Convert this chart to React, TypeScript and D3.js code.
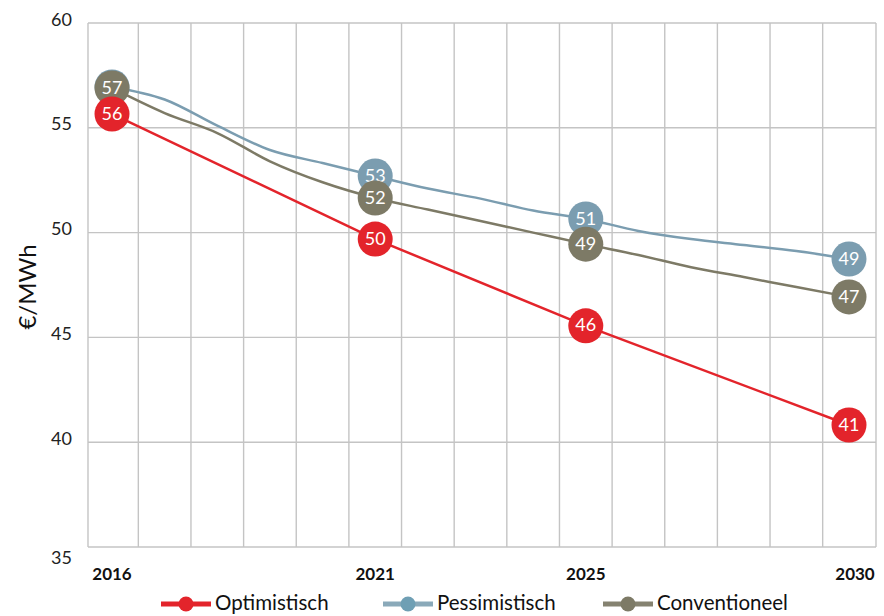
import React from "react";
import * as d3 from "d3";

const years = [2016, 2017, 2018, 2019, 2020, 2021, 2022, 2023, 2024, 2025, 2026, 2027, 2028, 2029, 2030];
const labelYears = [2016, 2021, 2025, 2030];
const yTicks = [35, 40, 45, 50, 55, 60];

const optimistisch: (number | null)[] = [55.66, null, null, null, null, 49.69, null, null, null, 45.55, null, null, null, null, 40.82];
const pessimistisch: number[] = [56.95, 56.35, 55.1, 53.94, 53.32, 52.7, 52.1, 51.62, 51.05, 50.65, 50.08, 49.69, 49.41, 49.12, 48.74];
const conventioneel: number[] = [56.9, 55.7, 54.75, 53.4, 52.4, 51.65, 51.1, 50.55, 50.0, 49.45, 48.93, 48.35, 47.88, 47.4, 46.93];

const seriesNames = ["Pessimistisch", "Conventioneel", "Optimistisch"];
const legendOrder = ["Optimistisch", "Pessimistisch", "Conventioneel"];

const W = 884, H = 616;
const PLOT = { left: 88, right: 876, top: 23, bottom: 547 };
const FONT = "Lato, 'Open Sans', sans-serif";

const colors: Record<string, string> = {
  Optimistisch: "#e3242b",
  Pessimistisch: "#7b9db0",
  Conventioneel: "#7d7a66",
};
const legendLine: Record<string, string> = {
  Optimistisch: "#e3242b",
  Pessimistisch: "#8aa9b9",
  Conventioneel: "#858270",
};
const legendDot: Record<string, string> = {
  Optimistisch: "#e3242b",
  Pessimistisch: "#6f9fb4",
  Conventioneel: "#7d7a66",
};
const legendX: Record<string, number> = {
  Optimistisch: 161,
  Pessimistisch: 383,
  Conventioneel: 603,
};

const dataFor: Record<string, (number | null)[]> = {
  Optimistisch: optimistisch,
  Pessimistisch: pessimistisch,
  Conventioneel: conventioneel,
};

export default function App() {
  const x = d3.scalePoint<number>().domain(years).range([112, 849]);
  const step = x.step();
  const y = d3.scaleLinear().domain([35, 60]).range([PLOT.bottom, PLOT.top]);
  const cx = (yr: number) => x(yr) as number;

  const gridX = [PLOT.left]
    .concat(years.slice(1).map((yr) => cx(yr) - step / 2))
    .concat([PLOT.right]);

  const lineFor = (name: string) => {
    const pts = years
      .map((yr, i) => ({ yr, v: dataFor[name][i] }))
      .filter((d) => d.v != null) as { yr: number; v: number }[];
    const gen = d3
      .line<{ yr: number; v: number }>()
      .x((d) => cx(d.yr))
      .y((d) => y(d.v))
      .curve(name === "Optimistisch" ? d3.curveLinear : d3.curveMonotoneX);
    return gen(pts) || "";
  };

  return (
    <svg
      width={W}
      height={H}
      style={{ position: "absolute", left: 0, top: 0, display: "block", background: "#fff" }}
      fontFamily={FONT}
    >
      {/* grid */}
      <g stroke="#c4c4c4" strokeWidth={1.4}>
        {yTicks.map((t) => (
          <line key={"h" + t} x1={PLOT.left} x2={PLOT.right} y1={y(t)} y2={y(t)} />
        ))}
        {gridX.map((gx, i) => (
          <line key={"v" + i} x1={gx} x2={gx} y1={PLOT.top} y2={PLOT.bottom} />
        ))}
      </g>

      {/* y tick labels */}
      <g fontSize={18} fill="#222" textAnchor="end">
        {yTicks.map((t, i) => (
          <text key={t} x={72} y={y(t) + (i === 0 ? 12 : -2)} dominantBaseline="middle">
            {t}
          </text>
        ))}
      </g>
      <text
        transform={`translate(30,287) rotate(-90)`}
        textAnchor="middle"
        dominantBaseline="middle"
        fontSize={24}
        fill="#111"
      >
        €/MWh
      </text>

      {/* x tick labels */}
      <g fontSize={17} fontWeight="bold" fill="#111" textAnchor="middle">
        {labelYears.map((yr, i) => (
          <text key={yr} x={cx(yr) + (i === labelYears.length - 1 ? 6 : 0)} y={580}>
            {yr}
          </text>
        ))}
      </g>

      {/* lines */}
      {seriesNames.map((name) => (
        <path key={name} d={lineFor(name)} fill="none" stroke={colors[name]} strokeWidth={2.5} />
      ))}

      {/* markers + labels */}
      {seriesNames.map((name) => (
        <g key={"m" + name}>
          {labelYears.map((yr) => {
            const v = dataFor[name][years.indexOf(yr)] as number;
            return (
              <g key={yr}>
                <circle cx={cx(yr)} cy={y(v)} r={17.5} fill={colors[name]} />
                <text
                  x={cx(yr)}
                  y={y(v) + 1}
                  textAnchor="middle"
                  dominantBaseline="middle"
                  fill="#fff"
                  fontSize={18}
                >
                  {Math.round(v)}
                </text>
              </g>
            );
          })}
        </g>
      ))}

      {/* legend */}
      <g>
        {legendOrder.map((name) => {
          const lx = legendX[name];
          return (
            <g key={"l" + name}>
              <line x1={lx} x2={lx + 50} y1={604} y2={604} stroke={legendLine[name]} strokeWidth={5} />
              <circle cx={lx + 25} cy={604} r={7.5} fill={legendDot[name]} />
              <text x={lx + 54} y={605} dominantBaseline="middle" fontSize={20.5} fill="#111">
                {name}
              </text>
            </g>
          );
        })}
      </g>
    </svg>
  );
}
